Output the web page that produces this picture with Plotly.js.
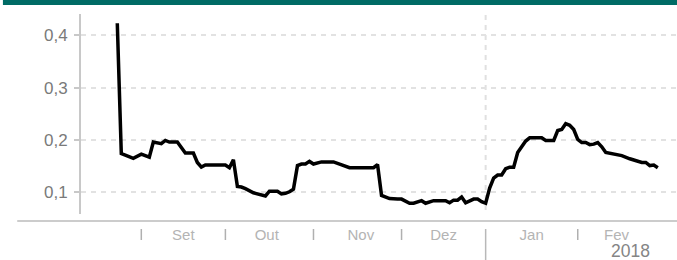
<!DOCTYPE html>
<html>
<head>
<meta charset="utf-8">
<script src="https://cdn.plot.ly/plotly-3.0.1.min.js"></script>
<style>html,body{margin:0;padding:0;background:#fff;}#chart{width:677px;height:260px;}</style>
</head>
<body>
<div id="chart"></div>
<script>
// Series: dates (business days) and values
var dates = [
 "2017-08-24","2017-08-25","2017-08-28","2017-08-30","2017-09-01","2017-09-05","2017-09-06","2017-09-08",
 "2017-09-11","2017-09-12","2017-09-14","2017-09-18","2017-09-20","2017-09-21","2017-09-22","2017-09-25",
 "2017-10-02","2017-10-03","2017-10-04","2017-10-05","2017-10-06","2017-10-09","2017-10-11","2017-10-13",
 "2017-10-16","2017-10-17","2017-10-19","2017-10-20","2017-10-23","2017-10-24","2017-10-25","2017-10-26",
 "2017-10-27","2017-10-30","2017-10-31","2017-11-01","2017-11-03","2017-11-08","2017-11-10","2017-11-13",
 "2017-11-14","2017-11-22","2017-11-23","2017-11-24","2017-11-28","2017-11-30","2017-12-01","2017-12-05",
 "2017-12-06","2017-12-08","2017-12-11","2017-12-13","2017-12-18","2017-12-19","2017-12-20","2017-12-21",
 "2017-12-22","2017-12-25","2017-12-27","2017-12-28","2017-12-29","2018-01-01","2018-01-02","2018-01-03",
 "2018-01-04","2018-01-05","2018-01-08","2018-01-09","2018-01-10","2018-01-11","2018-01-12","2018-01-15",
 "2018-01-16","2018-01-19","2018-01-22","2018-01-24","2018-01-25","2018-01-26","2018-01-29","2018-01-30",
 "2018-01-31","2018-02-01","2018-02-02","2018-02-05","2018-02-06","2018-02-07","2018-02-08","2018-02-09",
 "2018-02-12","2018-02-14","2018-02-15","2018-02-16","2018-02-20","2018-02-21","2018-02-23","2018-02-26",
 "2018-02-27","2018-02-28","2018-03-01"
];
var values = [
 0.423,0.174,0.171,0.165,0.173,0.167,0.196,0.193,
 0.199,0.196,0.196,0.175,0.175,0.157,0.148,0.152,
 0.152,0.147,0.162,0.111,0.110,0.107,0.099,0.094,
 0.093,0.102,0.102,0.097,0.098,0.101,0.106,0.151,
 0.154,0.154,0.159,0.154,0.158,0.158,0.153,0.151,
 0.147,0.147,0.153,0.094,0.088,0.087,0.087,0.079,
 0.079,0.084,0.079,0.084,0.084,0.080,0.085,0.085,
 0.091,0.080,0.087,0.087,0.082,0.079,0.108,0.127,
 0.133,0.133,0.145,0.148,0.148,0.176,0.188,0.198,
 0.204,0.204,0.199,0.199,0.218,0.220,0.231,0.228,
 0.220,0.201,0.195,0.195,0.191,0.192,0.195,0.187,
 0.176,0.173,0.170,0.170,0.164,0.162,0.157,0.157,
 0.151,0.152,0.147
];
// Axis labels
var monthLabels = ["Set","Out","Nov","Dez","Jan","Fev"];
var monthTickVals = ["2017-09-15 12:00","2017-10-16 08:00","2017-11-16 20:00","2017-12-15 12:00","2018-01-16 12:00","2018-02-14 17:00"];
var monthSeparators = ["2017-09-01","2017-10-02","2017-11-01","2017-12-01","2018-02-01"];
var yearBoundary = "2018-01-01";
var yearLabel = "2018";
var yTickVals = [0.1,0.2,0.3,0.4];

var FONT = "Liberation Sans, Arial, sans-serif";
var shapes = [];
// teal top bar
shapes.push({type:"rect",xref:"paper",yref:"paper",x0:-0.131,x1:1,y0:1.045,y1:1.08,fillcolor:"#006b65",line:{width:0},layer:"above"});
// x axis baseline
shapes.push({type:"line",xref:"paper",yref:"paper",x0:-0.107,x1:1,y0:-0.035,y1:-0.035,line:{color:"#cccccc",width:2}});
// month separators
monthSeparators.forEach(function(d){
  shapes.push({type:"line",xref:"x",yref:"paper",x0:d,x1:d,y0:-0.075,y1:-0.13,line:{color:"#b0b0b0",width:1.5}});
});
// year boundary
shapes.push({type:"line",xref:"x",yref:"paper",x0:yearBoundary,x1:yearBoundary,y0:0.02,y1:1,line:{color:"#e0e0e0",width:2,dash:"5px,5px"},layer:"below"});
shapes.push({type:"line",xref:"x",yref:"paper",x0:yearBoundary,x1:yearBoundary,y0:-0.075,y1:-0.25,line:{color:"#b8b8b8",width:1.5}});

var trace = {x:dates,y:values,type:"scatter",mode:"lines",line:{color:"#000000",width:3.5},hoverinfo:"skip"};

var layout = {
  width:677,height:260,
  margin:{l:81,r:0,t:14,b:46,pad:0},
  paper_bgcolor:"#ffffff",plot_bgcolor:"#ffffff",
  separators:",.",
  showlegend:false,
  font:{family:FONT},
  xaxis:{
    type:"date",
    range:["2017-08-10 22:30","2018-03-07 19:00"],
    rangebreaks:[{pattern:"day of week",bounds:[6,1]}],
    tickmode:"array",tickvals:monthTickVals,ticktext:monthLabels,
    ticks:"",showgrid:false,zeroline:false,showline:false,
    tickfont:{family:FONT,size:15,color:"#b4b4b4"},
    ticklabelstandoff:10,
    fixedrange:true
  },
  yaxis:{
    range:[0.0585,0.4407],
    tickmode:"array",tickvals:yTickVals,
    tickformat:".1f",
    showline:true,linecolor:"#c8c8c8",linewidth:2,
    ticks:"outside",ticklen:5,tickwidth:2,tickcolor:"#c8c8c8",
    showgrid:true,gridcolor:"#e2e2e2",gridwidth:2,griddash:"5px,5px",
    zeroline:false,
    tickfont:{family:FONT,size:17,color:"#7a7a7a"},
    ticklabelstandoff:3,
    fixedrange:true
  },
  shapes:shapes,
  annotations:[{text:yearLabel,xref:"paper",yref:"paper",x:(630-81)/596,y:-0.24,xanchor:"center",yanchor:"bottom",borderpad:0,showarrow:false,font:{family:FONT,size:17.5,color:"#858585"}}]
};
Plotly.newPlot("chart",[trace],layout,{staticPlot:true,displayModeBar:false});
</script>
</body>
</html>
